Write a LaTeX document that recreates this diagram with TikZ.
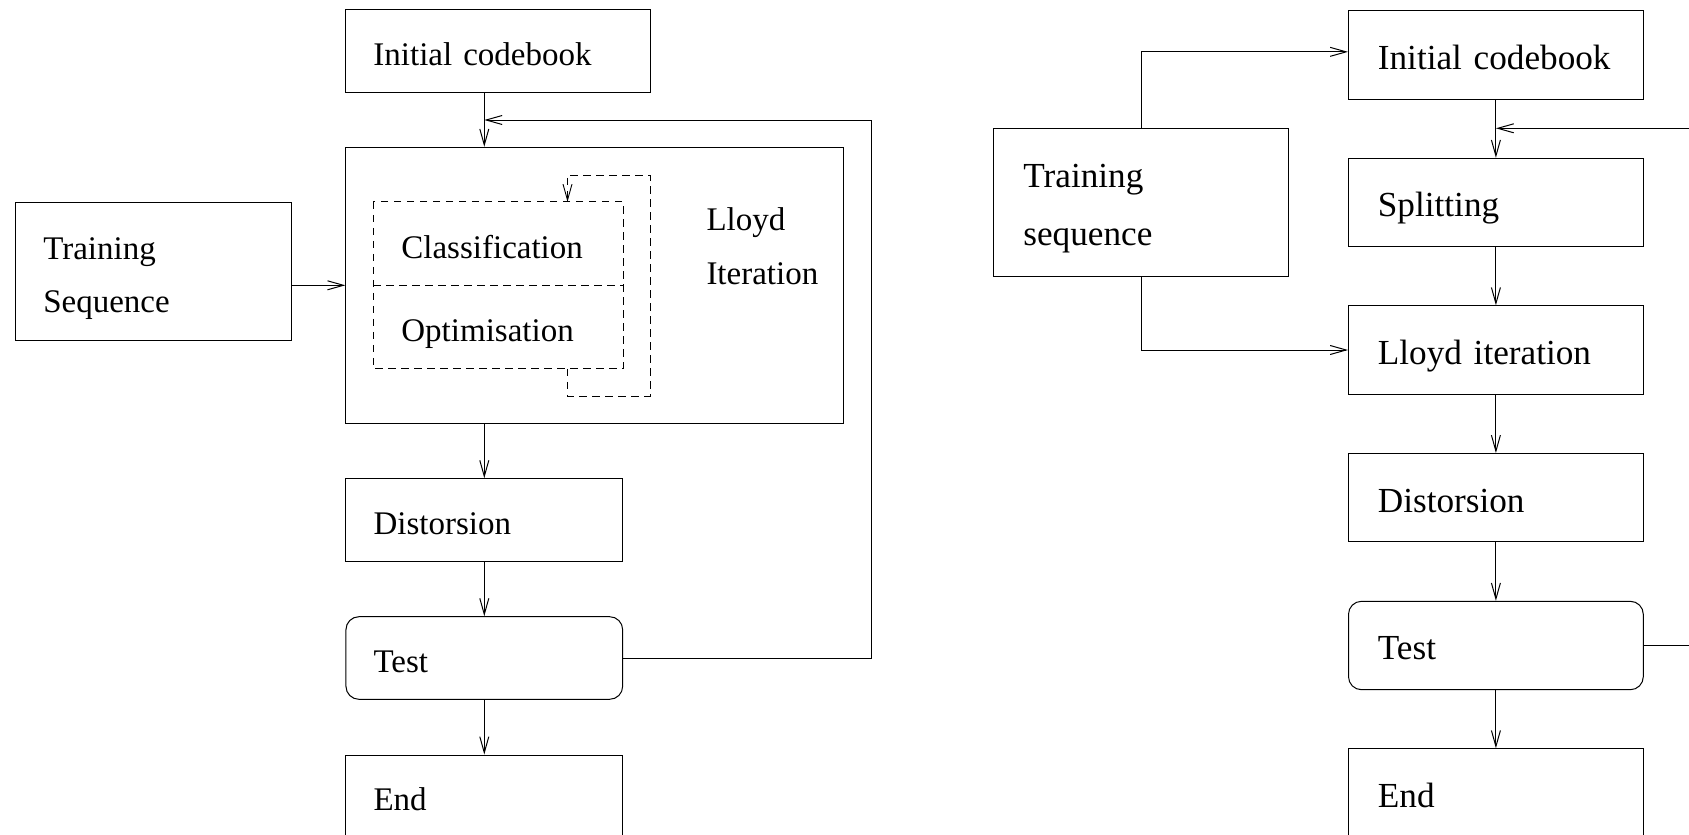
\documentclass[tikz,border=0pt]{standalone}
\usepackage{fontspec}
\setmainfont{Liberation Serif}
\usetikzlibrary{arrows.meta}
\begin{document}
\begin{tikzpicture}[x=1pt,y=-1pt,
  line width=1pt,
  flow/.style={-{Straight Barb[length=16pt,width=9pt]}},
  dashline/.style={dash pattern=on 7.5pt off 5.5pt, line width=0.9pt},
  lfont/.style={font=\fontsize{33}{53.5}\selectfont},
  rfont/.style={font=\fontsize{35.2}{57.7}\selectfont},
  box/.style={draw, rectangle, inner ysep=0pt, align=left,
              text height=28.6pt, text depth=0pt},
  lbox/.style={box, lfont, inner xsep=27.6pt, text width=221.5pt,
               minimum height=82.6pt},
  rbox/.style={box, rfont, inner xsep=29.4pt, text width=236pt,
               minimum height=88.4pt},
  testbox/.style={rounded corners=13pt},
  inner/.style={lfont, rectangle, inner xsep=27.9pt, inner ysep=0pt,
                text width=193.2pt, minimum height=83pt, align=left,
                text height=28.6pt, text depth=0pt},
]
\clip (0,0) rectangle (1689,835);

% ---------- left: Lloyd algorithm ----------
\node[lbox, text width=249.1pt, minimum height=82.7pt] (lic) at (498,50.7) {Initial codebook};
\node[draw, rectangle, inner sep=0pt, minimum width=497.5pt, minimum height=276pt] (lloyd) at (594.6,285.3) {};
\node[lfont, anchor=base west, inner sep=0pt, text width=130pt, align=left] (lloydlbl) at (706,230.7) {Lloyd\\Iteration};
\node[inner] (cls) at (498,243.8) {Classification};
\node[inner] (opt) at (498,326.8) {Optimisation};
\draw[dashline] (cls.north west) rectangle (opt.south east);
\draw[dashline] (cls.south west) -- (cls.south east);
\node[lbox, inner xsep=28.3pt, text width=219.4pt, minimum height=138pt, text depth=53.5pt] (lts) at (153,271.5) {Training\\Sequence};
\node[lbox] (ldist) at (484.3,520) {Distorsion};
\node[lbox, testbox] (ltest) at (484.3,658) {Test};
\node[lbox] (lend) at (484.3,796.3) {End};

\coordinate (lret) at (871,120);
\coordinate (lpA) at (567.5,396);
\coordinate (lpB) at (650,175);

\draw[flow] (lic.south -| ldist.north) -- (ldist.north |- lloyd.north);
\draw[flow] (ldist.north |- lloyd.south) -- (ldist.north);
\draw[flow] (ldist.south) -- (ltest.north);
\draw[flow] (ltest.south) -- (lend.north);
\draw[flow] (ltest.east) -| (lret) -- (lret -| ldist.north);
\draw[flow] (lts.east |- lloyd.west) -- (lloyd.west);
\draw[dashline, flow] (opt.south -| lpA) -- (lpA) -| (lpB) -| (cls.north -| lpA);

% ---------- right: splitting algorithm ----------
\node[rbox] (ric) at (1495.9,54.85) {Initial codebook};
\node[rbox] (rsplit) at (1495.9,202.5) {Splitting};
\node[rbox] (rlloyd) at (1495.9,350) {Lloyd iteration};
\node[rbox] (rdist) at (1495.9,497.7) {Distorsion};
\node[rbox, testbox] (rtest) at (1495.9,645.5) {Test};
\node[rbox] (rend) at (1495.9,793) {End};
\node[rbox, inner xsep=30pt, text width=235.4pt, minimum height=148pt, text depth=57.7pt] (rts) at (1141.1,202.2) {Training\\sequence};

\coordinate (rin) at (1689,128.3);

\draw[flow] (ric.south) -- (rsplit.north);
\draw[flow] (rin) -- (rin -| rsplit.north);
\draw[flow] (rsplit.south) -- (rlloyd.north);
\draw[flow] (rlloyd.south) -- (rdist.north);
\draw[flow] (rdist.south) -- (rtest.north);
\draw[flow] (rtest.south) -- (rend.north);
\draw (rtest.east) -- (rtest.east -| rin);
\draw[flow] (rts.north) |- ([yshift=3pt]ric.west);
\draw[flow] (rts.south) |- (rlloyd.west);
\end{tikzpicture}
\end{document}
